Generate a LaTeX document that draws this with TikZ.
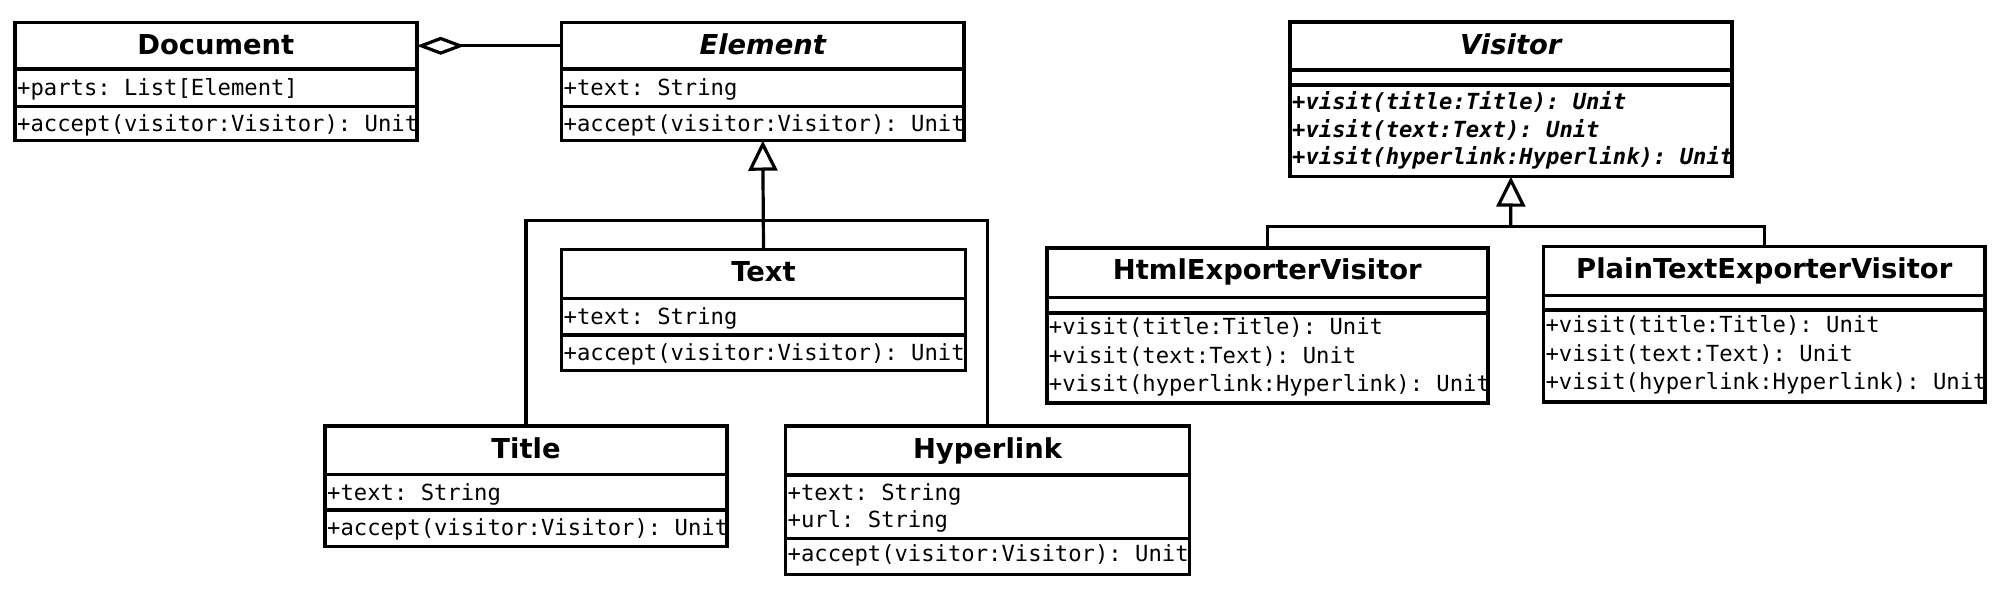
\documentclass[tikz,border=0pt]{standalone}
\usepackage{fontspec}
\setmainfont{DejaVu Sans}
\setmonofont{DejaVu Sans Mono}
\usetikzlibrary{arrows.meta}
\tikzset{
  umlbox/.style={draw, line width=3.6pt, inner sep=0pt, outer sep=0pt, anchor=north west},
  cname/.style={anchor=base, inner sep=0pt, font=\fontsize{27.4}{32}\selectfont\bfseries},
  aname/.style={anchor=base, inner sep=0pt, font=\fontsize{27.4}{32}\selectfont\bfseries\itshape},
  member/.style={anchor=base west, inner sep=0pt, xshift=1.5pt, font=\fontsize{22.2}{27}\selectfont\ttfamily},
  amember/.style={anchor=base west, inner sep=0pt, xshift=1.5pt, font=\fontsize{22.2}{27}\selectfont\ttfamily\bfseries\itshape},
  divider/.style={line width=3.6pt},
  link/.style={line width=3.2pt},
  gen/.style={link, -{Triangle[open, length=30pt, width=29pt]}},
  agg/.style={link, -{Diamond[open, length=48pt, width=18pt]}},
}
\begin{document}
\begin{tikzpicture}[x=1pt, y=-1pt]
\useasboundingbox (0,0) rectangle (1999,593);

% ---------- Document ----------
\node[umlbox, minimum width=401.7pt, minimum height=118.2pt] (doc) at (15,22.5) {};
\draw[divider] (15,69.3) -- (416.7,69.3);
\draw[divider] (15,106.7) -- (416.7,106.7);
\node[cname] (docT) at (215.8,55) {Document};
\node[member] (docA) at (15.5,96) {+parts: List[Element]};
\node[member] (docM) at (15.5,131.7) {+accept(visitor:Visitor): Unit};

% ---------- Element ----------
\node[umlbox, minimum width=402.5pt, minimum height=118.2pt] (elem) at (561.5,22.5) {};
\draw[divider] (561.5,69.3) -- (964,69.3);
\draw[divider] (561.5,106.7) -- (964,106.7);
\node[aname] (elemT) at (762.75,55) {Element};
\node[member] (elemA) at (562,96) {+text: String};
\node[member] (elemM) at (562,131.7) {+accept(visitor:Visitor): Unit};

% ---------- Text ----------
\node[umlbox, minimum width=404pt, minimum height=121pt] (text) at (561.5,249.5) {};
\draw[divider] (561.5,298.5) -- (965.5,298.5);
\draw[divider] (561.5,335) -- (965.5,335);
\node[cname] (textT) at (763.5,282) {Text};
\node[member] (textA) at (562,325) {+text: String};
\node[member] (textM) at (562,360) {+accept(visitor:Visitor): Unit};

% ---------- Title ----------
\node[umlbox, minimum width=402pt, minimum height=120.5pt] (title) at (325,426) {};
\draw[divider] (325,474.5) -- (727,474.5);
\draw[divider] (325,510) -- (727,510);
\node[cname] (titleT) at (526,458) {Title};
\node[member] (titleA) at (325.5,500.5) {+text: String};
\node[member] (titleM) at (325.5,535) {+accept(visitor:Visitor): Unit};

% ---------- Hyperlink ----------
\node[umlbox, minimum width=404pt, minimum height=148.3pt] (hyper) at (785.5,426) {};
\draw[divider] (785.5,475) -- (1189.5,475);
\draw[divider] (785.5,538.3) -- (1189.5,538.3);
\node[cname] (hyperT) at (987.5,458.3) {Hyperlink};
\node[member] (hyperA) at (786,500) {+text: String};
\node[member] (hyperB) at (786,527.7) {+url: String};
\node[member] (hyperM) at (786,561.7) {+accept(visitor:Visitor): Unit};

% ---------- Visitor ----------
\node[umlbox, minimum width=441.7pt, minimum height=154.7pt] (visitor) at (1290,22) {};
\draw[divider] (1290,70) -- (1731.7,70);
\draw[divider] (1290,85) -- (1731.7,85);
\node[aname] (visT) at (1510.8,54.5) {Visitor};
\node[amember] (visM1) at (1290.5,110) {+visit(title:Title): Unit};
\node[amember] (visM2) at (1290.5,137.7) {+visit(text:Text): Unit};
\node[amember] (visM3) at (1290.5,165) {+visit(hyperlink:Hyperlink): Unit};

% ---------- HtmlExporterVisitor ----------
\node[umlbox, minimum width=441.3pt, minimum height=154.7pt] (html) at (1046.7,248.3) {};
\draw[divider] (1046.7,297.7) -- (1488,297.7);
\draw[divider] (1046.7,313) -- (1488,313);
\node[cname] (htmlT) at (1267.3,280) {HtmlExporterVisitor};
\node[member] (htmlM1) at (1047.2,335) {+visit(title:Title): Unit};
\node[member] (htmlM2) at (1047.2,363.3) {+visit(text:Text): Unit};
\node[member] (htmlM3) at (1047.2,391.7) {+visit(hyperlink:Hyperlink): Unit};

% ---------- PlainTextExporterVisitor ----------
\node[umlbox, minimum width=441.7pt, minimum height=155pt] (plain) at (1543.3,246.7) {};
\draw[divider] (1543.3,295.7) -- (1985,295.7);
\draw[divider] (1543.3,310) -- (1985,310);
\node[cname] (plainT) at (1764.2,279) {PlainTextExporterVisitor};
\node[member] (plainM1) at (1543.8,333) {+visit(title:Title): Unit};
\node[member] (plainM2) at (1543.8,361.3) {+visit(text:Text): Unit};
\node[member] (plainM3) at (1543.8,389.5) {+visit(hyperlink:Hyperlink): Unit};

% ---------- connectors ----------
\coordinate (aggy) at (0,45.8);
\draw[agg] (elem.west |- aggy) -- (doc.east |- aggy);

\coordinate (ebar) at (763.5,220.5);
\draw[gen] (text.north) -- (elem.south);
\draw[link] (title.north) |- (ebar) -| (hyper.north);

\coordinate (vbar) at (1510.8,226.5);
\draw[gen] (vbar) -- (visitor.south);
\draw[link] (html.north) |- (vbar) -| (plain.north);
\end{tikzpicture}
\end{document}
